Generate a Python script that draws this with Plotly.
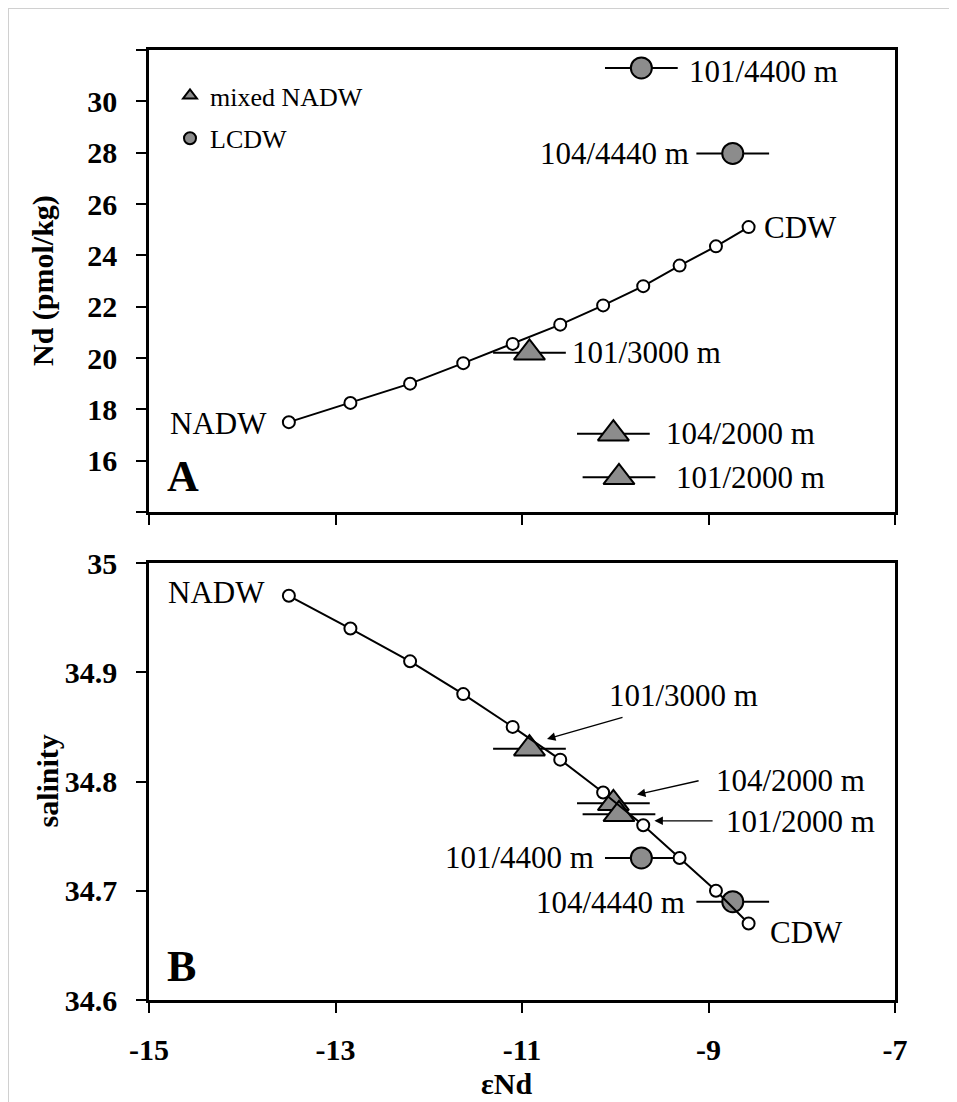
import plotly.graph_objects as go

# ---------------- data ----------------
eps_mix = [-13.5, -12.84, -12.2, -11.63, -11.1, -10.59, -10.13, -9.7, -9.31, -8.92, -8.57]
nd_mix = [17.5, 18.25, 19.0, 19.8, 20.55, 21.3, 22.05, 22.8, 23.6, 24.35, 25.1]
sal_mix = [34.97, 34.94, 34.91, 34.88, 34.85, 34.82, 34.79, 34.76, 34.73, 34.70, 34.67]

tri_names = ["101/3000 m", "104/2000 m", "101/2000 m"]
tri_eps = [-10.92, -10.02, -9.96]
tri_nd = [20.2, 17.05, 15.35]
tri_sal = [34.83, 34.78, 34.77]
tri_err = [0.39, 0.39, 0.39]

circ_names = ["101/4400 m", "104/4440 m"]
circ_eps = [-9.72, -8.74]
circ_nd = [31.3, 27.97]
circ_sal = [34.73, 34.69]
circ_err = [0.39, 0.39]

x_ticks = [-15, -13, -11, -9, -7]
x_ticktext = ["-15", "-13", "-11", "-9", "-7"]
nd_ticks = [14, 16, 18, 20, 22, 24, 26, 28, 30, 32]
nd_ticktext = ["", "16", "18", "20", "22", "24", "26", "28", "30", ""]
sal_ticks = [34.6, 34.7, 34.8, 34.9, 35.0]
sal_ticktext = ["34.6", "34.7", "34.8", "34.9", "35"]

# ---------------- style ----------------
FONT = "Liberation Serif"
GRAY = "#8c8c8c"
OFF = 8                      # page body margin
W, H = 957 - OFF, 1102 - OFF  # figure size so that it fits the window
XL, XR = 149, 895            # page pixel positions
A_TOP, A_BOT = 50, 512
B_TOP, B_BOT = 563, 1000


def pxp(p):
    return (p - OFF) / W


def pyp(p):
    return 1 - (p - OFF) / H


fig = go.Figure()

for ax_x, ax_y, yvals_mix, yvals_tri, yvals_circ, leg in [
    ("x", "y", nd_mix, tri_nd, circ_nd, True),
    ("x2", "y2", sal_mix, tri_sal, circ_sal, False),
]:
    fig.add_trace(go.Scatter(
        x=tri_eps, y=yvals_tri, mode="markers", name="mixed NADW",
        legendgroup="tri", showlegend=leg, xaxis=ax_x, yaxis=ax_y,
        marker=dict(symbol="triangle-up", size=27, color=GRAY,
                    line=dict(color="black", width=2)),
        error_x=dict(type="data", array=tri_err, width=0, thickness=2, color="black"),
    ))
    fig.add_trace(go.Scatter(
        x=circ_eps, y=yvals_circ, mode="markers", name="LCDW",
        legendgroup="circ", showlegend=leg, xaxis=ax_x, yaxis=ax_y,
        marker=dict(symbol="circle", size=21, color=GRAY,
                    line=dict(color="black", width=2)),
        error_x=dict(type="data", array=circ_err, width=0, thickness=2, color="black"),
    ))
    fig.add_trace(go.Scatter(
        x=eps_mix, y=yvals_mix, mode="lines+markers", showlegend=False,
        xaxis=ax_x, yaxis=ax_y,
        line=dict(color="black", width=2),
        marker=dict(symbol="circle", size=12, color="white",
                    line=dict(color="black", width=2)),
    ))

tickfont = dict(family=FONT, size=30, color="black", weight="bold")
base_axis = dict(showgrid=False, zeroline=False, showline=True, linecolor="black",
                 linewidth=2.5, mirror=True, ticks="outside", ticklen=10,
                 tickwidth=2, tickcolor="black", tickfont=tickfont, automargin=False)
over_axis = dict(showgrid=False, zeroline=False, showline=False, ticks="inside",
                 ticklen=10, tickwidth=2, tickcolor="black", showticklabels=False,
                 automargin=False)

xdom = [pxp(XL), pxp(XR)]
domA = [pyp(A_BOT), pyp(A_TOP)]
domB = [pyp(B_BOT), pyp(B_TOP)]

fig.update_layout(
    width=W, height=H,
    margin=dict(l=0, r=0, t=0, b=0, pad=0, autoexpand=False),
    paper_bgcolor="white", plot_bgcolor="white",
    font=dict(family=FONT, color="black"),
    xaxis=dict(base_axis, domain=xdom, range=[-15, -7], tickvals=x_ticks,
               showticklabels=False, anchor="y"),
    yaxis=dict(base_axis, domain=domA, range=[14, 32], tickvals=nd_ticks,
               ticktext=nd_ticktext, anchor="x", ticklabelstandoff=13),
    xaxis2=dict(base_axis, domain=xdom, range=[-15, -7], tickvals=x_ticks,
                ticktext=x_ticktext, anchor="y2", ticklabelstandoff=11),
    yaxis2=dict(base_axis, domain=domB, range=[34.6, 35.0], tickvals=sal_ticks,
                ticktext=sal_ticktext, anchor="x2", ticklabelstandoff=13),
    xaxis3=dict(over_axis, overlaying="x", anchor="y", range=[-15, -7], tickvals=x_ticks),
    yaxis3=dict(over_axis, overlaying="y", anchor="x", range=[14, 32], tickvals=nd_ticks),
    xaxis4=dict(over_axis, overlaying="x2", anchor="y2", range=[-15, -7], tickvals=x_ticks),
    yaxis4=dict(over_axis, overlaying="y2", anchor="x2", range=[34.6, 35.0], tickvals=sal_ticks),
    legend=dict(x=pxp(170), y=pyp(72), xanchor="left", yanchor="top",
                font=dict(family=FONT, size=26, color="black"),
                itemsizing="constant", tracegroupgap=6,
                bgcolor="rgba(0,0,0,0)"),
    showlegend=True,
)

lab = dict(family=FONT, size=31, color="black")
ann = []


def txt(x, y, t, xa, xref, yref, font=lab):
    ann.append(dict(x=x, y=y, text=t, xref=xref, yref=yref, showarrow=False,
                    xanchor=xa, yanchor="middle", font=font))


# panel A labels
txt(-13.71, 17.45, "NADW", "right", "x", "y")
txt(-8.43, 25.1, "CDW", "left", "x", "y")
txt(-9.23, 31.16, "101/4400 m", "left", "x", "y")
txt(-9.19, 27.95, "104/4440 m", "right", "x", "y")
txt(-10.49, 20.22, "101/3000 m", "left", "x", "y")
txt(-9.48, 17.05, "104/2000 m", "left", "x", "y")
txt(-9.37, 15.34, "101/2000 m", "left", "x", "y")
txt(-14.83, 15.4, "A", "left", "x", "y",
    dict(family=FONT, size=44, color="black", weight="bold"))

# panel B labels
txt(-13.735, 34.9726, "NADW", "right", "x2", "y2")
txt(-8.36, 34.6615, "CDW", "left", "x2", "y2")
txt(-10.09, 34.8783, "101/3000 m", "left", "x2", "y2")
txt(-8.94, 34.8005, "104/2000 m", "left", "x2", "y2")
txt(-8.834, 34.763, "101/2000 m", "left", "x2", "y2")
txt(-10.206, 34.730, "101/4400 m", "right", "x2", "y2")
txt(-9.23, 34.689, "104/4440 m", "right", "x2", "y2")
txt(-14.83, 34.631, "B", "left", "x2", "y2",
    dict(family=FONT, size=44, color="black", weight="bold"))

# arrows in panel B (tail -> head)
for (tx, ty, hx, hy) in [(-9.906, 34.859, -10.732, 34.839),
                         (-9.09, 34.801, -9.767, 34.788),
                         (-8.94, 34.764, -9.58, 34.764)]:
    ann.append(dict(x=hx, y=hy, ax=tx, ay=ty, xref="x2", yref="y2",
                    axref="x2", ayref="y2", text="", showarrow=True,
                    arrowhead=2, arrowsize=1.3, arrowwidth=1.3, arrowcolor="black"))

# axis titles
titlefont = dict(family=FONT, size=30, color="black", weight="bold")
ann.append(dict(x=pxp(43), y=pyp((A_TOP + A_BOT) / 2), xref="paper", yref="paper",
                text="Nd (pmol/kg)", textangle=-90, showarrow=False,
                xanchor="center", yanchor="middle", font=titlefont))
ann.append(dict(x=pxp(47), y=pyp((B_TOP + B_BOT) / 2), xref="paper", yref="paper",
                text="salinity", textangle=-90, showarrow=False,
                xanchor="center", yanchor="middle", font=titlefont))
ann.append(dict(x=pxp(506), y=pyp(1083), xref="paper", yref="paper",
                text="εNd", showarrow=False, xanchor="center", yanchor="middle",
                font=titlefont))

fig.update_layout(annotations=ann)

# thin frame lines of the original picture
fig.add_shape(type="line", xref="paper", yref="paper", x0=0, x1=1,
              y0=pyp(8.5), y1=pyp(8.5), line=dict(color="#d0d0d0", width=1))
fig.add_shape(type="line", xref="paper", yref="paper", x0=pxp(8.5), x1=pxp(8.5),
              y0=0, y1=1, line=dict(color="#d0d0d0", width=1))

fig.write_html("out.html")
